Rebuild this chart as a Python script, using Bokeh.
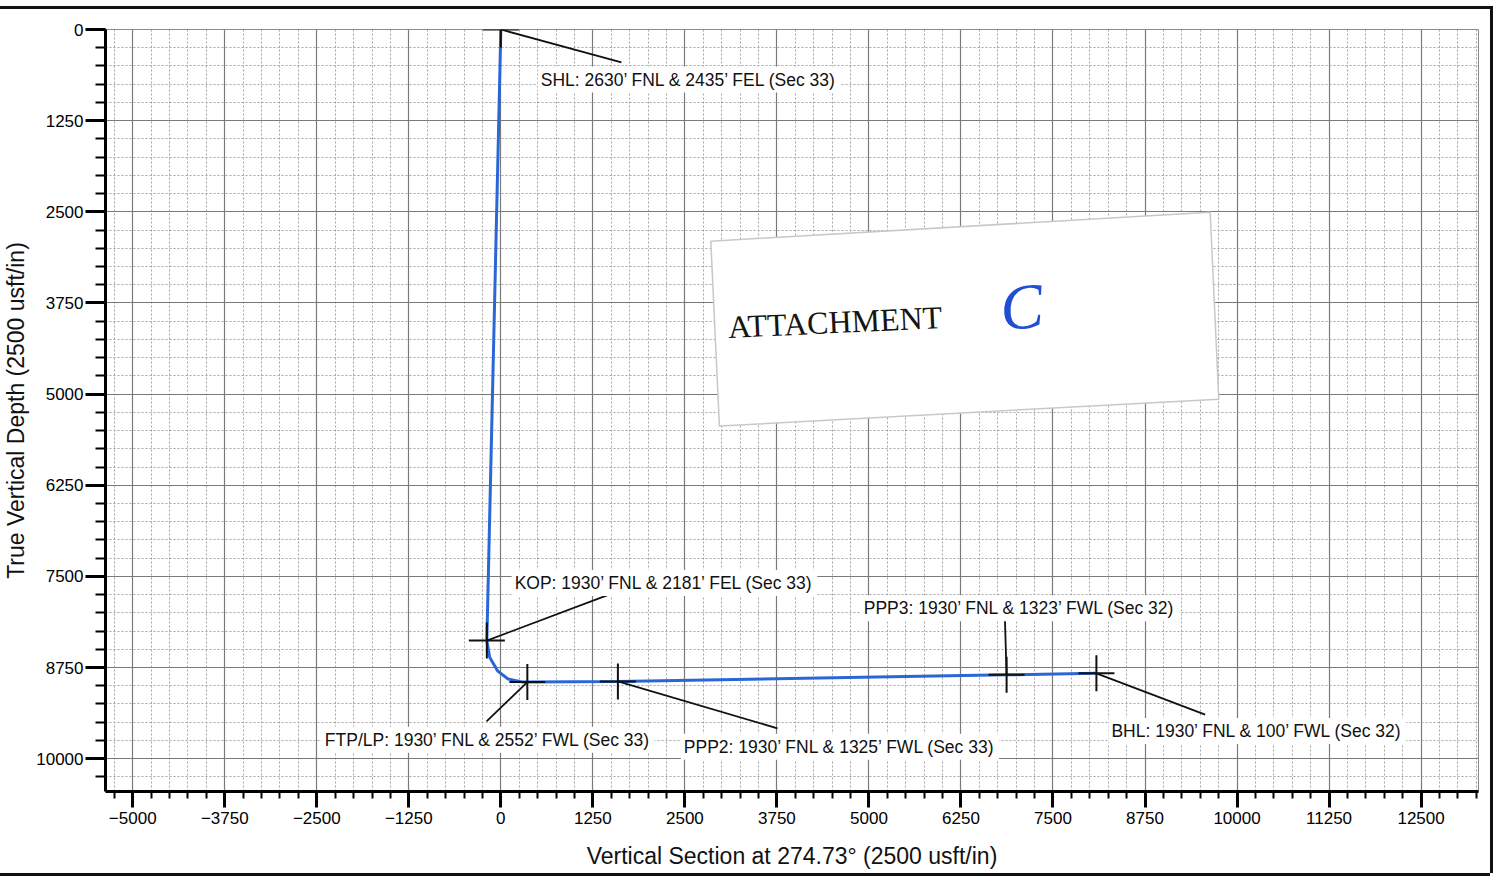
from bokeh.plotting import figure
from bokeh.models import FixedTicker, Label, Range1d
from bokeh.core.properties import value
from bokeh.embed import file_html
from bokeh.resources import INLINE

# ---- data (vertical section ft, true vertical depth ft) ----
path_vs = [0, -190, -152, -41, 98, 286, 360, 1590, 6870, 8090]
path_tvd = [0, 8380, 8610, 8800, 8908, 8947, 8950, 8940, 8850, 8830]

point_names = ["SHL", "KOP", "FTP/LP", "PPP2", "PPP3", "BHL"]
point_vs = [0, -190, 360, 1590, 6870, 8090]
point_tvd = [0, 8380, 8950, 8940, 8850, 8830]
point_text = [
    "SHL: 2630\u2019 FNL & 2435\u2019 FEL (Sec 33)",
    "KOP: 1930\u2019 FNL & 2181\u2019 FEL (Sec 33)",
    "FTP/LP: 1930\u2019 FNL & 2552\u2019 FWL (Sec 33)",
    "PPP2: 1930\u2019 FNL & 1325\u2019 FWL (Sec 33)",
    "PPP3: 1930\u2019 FNL & 1323\u2019 FWL (Sec 32)",
    "BHL: 1930\u2019 FNL & 100\u2019 FWL (Sec 32)",
]

x_ticks = list(range(-5000, 12501, 1250))
x_minor = list(range(-5250, 13251, 250))
y_ticks = list(range(0, 10001, 1250))
y_minor = list(range(0, 10451, 250))

# ---- annotation layout (placement only) ----
label_x = [501, 147, -2431, 2445, 4889, 8253]
label_y = [686, 7591, 9739, 9837, 7937, 9619]
leader_x = [1638, 1505, -194, 3757, 6847, 9567]
leader_y = [450, 7737, 9488, 9584, 8088, 9395]
sticker_x = [2852, 9635, 9752, 2969]
sticker_y = [2903, 2506, 5070, 5439]

FONT = "Liberation Sans"

p = figure(width=1490, height=867,
           x_range=Range1d(-5370, 13280), y_range=Range1d(10450, 0),
           output_backend="svg", toolbar_location=None,
           min_border_left=104, min_border_right=12,
           min_border_top=20, min_border_bottom=85,
           background_fill_color="white", border_fill_color="white",
           styles={"margin-top": "6px",
                   "border-top": "3px solid #111",
                   "box-shadow": "3px 0 0 0 #111, 0 3px 0 0 #111"})

p.outline_line_color = "#8c8c8c"
p.outline_line_width = 1

for ax, tk, mn in ((p.xaxis[0], x_ticks, x_minor), (p.yaxis[0], y_ticks, y_minor)):
    ax.ticker = FixedTicker(ticks=tk, minor_ticks=mn)
    ax.axis_line_width = 3
    ax.axis_line_color = "black"
    ax.major_tick_line_width = 3
    ax.minor_tick_line_width = 2
    ax.major_tick_line_color = "black"
    ax.minor_tick_line_color = "black"
    ax.major_tick_in = 0
    ax.minor_tick_in = 0
    ax.major_label_text_font = FONT
    ax.major_label_text_font_size = "17px"
    ax.major_label_text_color = "black"
    ax.axis_label_text_font = FONT
    ax.axis_label_text_font_size = "23px"
    ax.axis_label_text_font_style = "normal"
    ax.axis_label_text_color = "#111"

p.xaxis.major_tick_out = 16
p.xaxis.minor_tick_out = 7
p.xaxis.major_label_standoff = 4
p.xaxis.axis_label_standoff = 16
p.xaxis.axis_label = "Vertical Section at 274.73\u00b0 (2500 usft/in)"

p.yaxis.major_tick_out = 20
p.yaxis.minor_tick_out = 10
p.yaxis.major_label_standoff = 2
p.yaxis.axis_label_standoff = 4
p.yaxis.axis_label = "True Vertical Depth (2500 usft/in)"

for g in (p.xgrid[0], p.ygrid[0]):
    g.grid_line_color = "#7a7a7a"
    g.grid_line_width = 1.2
    g.minor_grid_line_color = "#a4a4a4"
    g.minor_grid_line_width = 1
    g.minor_grid_line_dash = "2 2"

# sticker
p.patch(sticker_x, sticker_y, fill_color="white", line_color="#c8c8c8", line_width=1.5)
p.text(x=[3085], y=[4080], text=["ATTACHMENT"], angle=0.046,
       text_font=value("Liberation Serif"), text_font_size="32px",
       text_baseline="middle", text_align="left", text_color="#151515")
p.text(x=[7073], y=[3804], text=["C"], angle=0.1,
       text_font=value("Liberation Serif"), text_font_style="italic",
       text_font_size="64px", text_baseline="middle", text_align="center",
       text_color="#1f4fd3")

# well path
p.line(path_vs, path_tvd, line_color="#2a67d6", line_width=3)

# leaders and markers
p.segment(x0=point_vs, y0=point_tvd, x1=leader_x, y1=leader_y,
          line_color="#111", line_width=1.8)
p.scatter(point_vs, point_tvd, marker="cross", size=36,
          line_color="#111", line_width=2)

for lx, ly, t in zip(label_x, label_y, point_text):
    p.add_layout(Label(x=lx, y=ly, text=t, text_font=FONT, text_font_size="17.5px",
                       text_baseline="middle", text_align="left", text_color="#111",
                       background_fill_color="white", padding=3))

open("out.html", "w").write(file_html(p, INLINE))
